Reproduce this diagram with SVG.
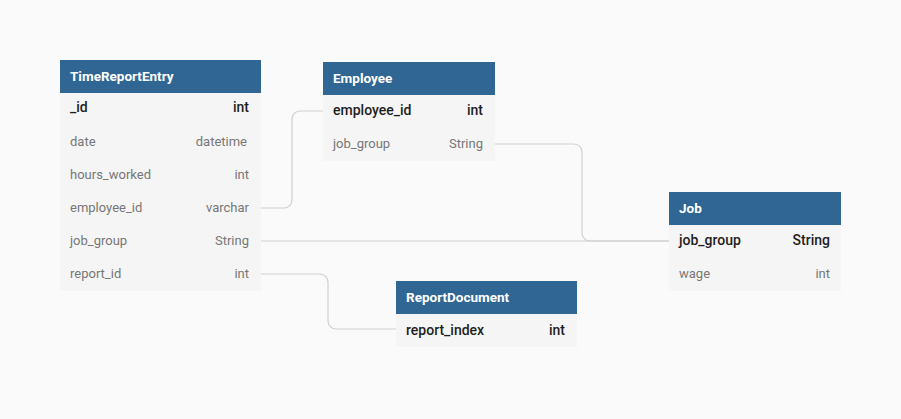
<svg xmlns="http://www.w3.org/2000/svg" width="901" height="419" viewBox="0 0 901 419">
<style>
.bg{fill:#fafafa}
.hd{fill:#2f6693}
.body{fill:#f5f5f5}
text{font-family:Roboto,"Liberation Sans",sans-serif;font-size:13px}
.ht{fill:#ffffff;font-weight:bold;font-size:13.5px}
.k{fill:#1e1e1e;font-weight:500;font-size:14px}
.f{fill:#777777}
.r{text-anchor:end}
.c{fill:none;stroke:#cfcfcf;stroke-width:1.2}
</style>
<rect class="bg" x="0" y="0" width="901" height="419"/>
<g id="connectors">
<path class="c" d="M261,208 H284 A8,8 0 0 0 292,200 V119 A8,8 0 0 1 300,111 H323"/>
<path class="c" d="M495,144 H574 A8,8 0 0 1 582,152 V233 A8,8 0 0 0 590,241 H669"/>
<path class="c" d="M261,241 H669"/>
<path class="c" d="M261,274 H320 A8,8 0 0 1 328,282 V321 A8,8 0 0 0 336,329 H396"/>
</g>
<g id="TimeReportEntry">
<rect class="body" x="60" y="93" width="201" height="198"/>
<rect class="hd" x="60" y="60" width="201" height="33"/>
<text class="ht" x="70" y="81">TimeReportEntry</text>
<text class="k" x="70" y="112">_id</text><text class="k r" x="249" y="112">int</text>
<text class="f" x="70" y="146">date</text><text class="f r" x="247" y="146">datetime</text>
<text class="f" x="70" y="179">hours_worked</text><text class="f r" x="249" y="179">int</text>
<text class="f" x="70" y="212">employee_id</text><text class="f r" x="249" y="212">varchar</text>
<text class="f" x="70" y="245">job_group</text><text class="f r" x="249" y="245">String</text>
<text class="f" x="70" y="278">report_id</text><text class="f r" x="249" y="278">int</text>
</g>
<g id="Employee">
<rect class="body" x="323" y="95" width="172" height="66"/>
<rect class="hd" x="323" y="62" width="172" height="33"/>
<text class="ht" x="333" y="83">Employee</text>
<text class="k" x="333" y="115">employee_id</text><text class="k r" x="483" y="115">int</text>
<text class="f" x="333" y="148">job_group</text><text class="f r" x="483" y="148">String</text>
</g>
<g id="Job">
<rect class="body" x="669" y="225" width="172" height="66"/>
<rect class="hd" x="669" y="192" width="172" height="33"/>
<text class="ht" x="679" y="213">Job</text>
<text class="k" x="679" y="245">job_group</text><text class="k r" x="830" y="245">String</text>
<text class="f" x="679" y="278">wage</text><text class="f r" x="830" y="278">int</text>
</g>
<g id="ReportDocument">
<rect class="body" x="396" y="314" width="181" height="33"/>
<rect class="hd" x="396" y="281" width="181" height="33"/>
<text class="ht" x="406" y="302">ReportDocument</text>
<text class="k" x="406" y="335">report_index</text><text class="k r" x="565" y="335">int</text>
</g>
</svg>
